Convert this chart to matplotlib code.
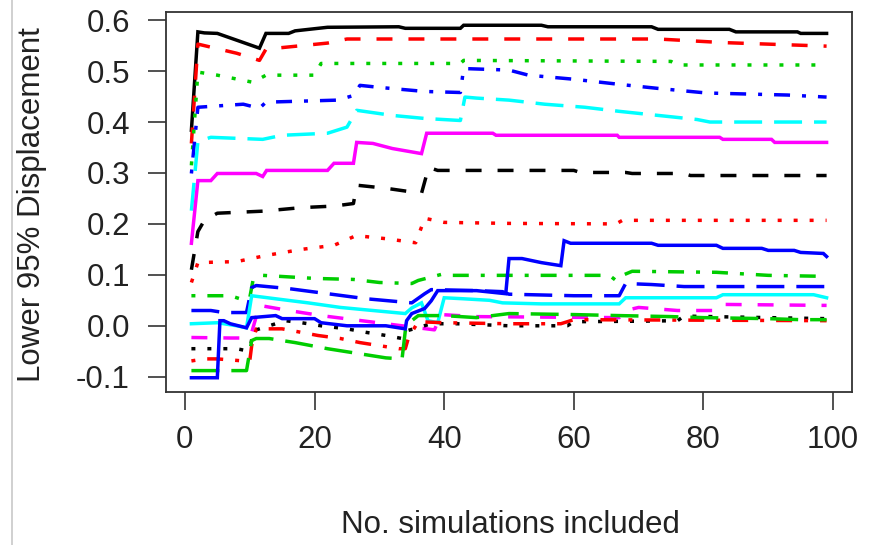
import matplotlib
matplotlib.use("Agg")
import matplotlib.pyplot as plt
from matplotlib.lines import Line2D

plt.rcParams['font.family'] = ['Liberation Sans', 'DejaVu Sans']

# data: (simulations included, lower 95% displacement)
s01 = [(1, 0.384), (2, 0.577), (3, 0.575), (5, 0.574), (11.5, 0.545), (12.5, 0.574), (16, 0.574),
       (17, 0.579), (22, 0.586), (33, 0.587), (34, 0.584), (42.5, 0.584), (43, 0.590), (55, 0.590),
       (56, 0.587), (72, 0.587), (73, 0.582), (84, 0.582), (85, 0.577), (94.5, 0.577), (95, 0.574),
       (99, 0.574)]
s02 = [(1, 0.358), (2, 0.553), (4, 0.547), (8, 0.535), (11.5, 0.521), (12.5, 0.543), (22, 0.555),
       (25, 0.563), (73, 0.563), (83, 0.556), (99, 0.549)]
s03 = [(1, 0.315), (2, 0.498), (5, 0.492), (10.5, 0.478), (12.5, 0.492), (20, 0.492), (21, 0.515),
       (42.5, 0.515), (43, 0.521), (75, 0.519), (76, 0.512), (99, 0.512)]
s04 = [(1, 0.299), (2, 0.429), (9, 0.435), (11.5, 0.427), (12.5, 0.439), (23.5, 0.443), (26, 0.452),
       (27, 0.472), (30, 0.468), (37, 0.460), (42.5, 0.458), (43, 0.505), (50, 0.502), (53, 0.492),
       (60, 0.484), (67, 0.474), (73, 0.466), (80.5, 0.457), (93, 0.453), (99, 0.449)]
s05 = [(1, 0.226), (2, 0.362), (4, 0.370), (12, 0.366), (15, 0.374), (22, 0.378), (25, 0.390),
       (26.5, 0.423), (32, 0.413), (37, 0.407), (42.5, 0.403), (43.2, 0.449), (45, 0.447), (50, 0.443),
       (55.5, 0.435), (61.7, 0.429), (67, 0.421), (73, 0.413), (79, 0.405), (81, 0.400), (99, 0.400)]
s06 = [(1, 0.162), (2, 0.285), (4, 0.285), (5, 0.299), (11, 0.299), (12, 0.293), (12.6, 0.305),
       (22, 0.305), (23, 0.319), (26, 0.319), (26.5, 0.360), (29, 0.358), (32, 0.348), (36.5, 0.338),
       (37.3, 0.378), (47.5, 0.378), (48, 0.374), (66.7, 0.374), (67, 0.370), (82.5, 0.370),
       (83, 0.366), (90.5, 0.366), (91, 0.360), (99, 0.360)]
s07 = [(1, 0.110), (2, 0.185), (3, 0.207), (5, 0.221), (12, 0.225), (18, 0.232), (23, 0.235),
       (26, 0.240), (26.5, 0.276), (31, 0.270), (36.5, 0.260), (37.6, 0.311), (39, 0.305), (60, 0.305),
       (61, 0.301), (68, 0.301), (69, 0.299), (77, 0.299), (78, 0.295), (99, 0.295)]
s08 = [(1, 0.085), (2, 0.124), (8, 0.126), (12.5, 0.138), (18, 0.150), (23, 0.158), (26.4, 0.177),
       (31, 0.171), (35.6, 0.163), (37, 0.211), (40, 0.203), (50, 0.201), (66.5, 0.200), (67.5, 0.207),
       (99, 0.207)]
s09 = [(1, 0.059), (7, 0.059), (8.5, 0.053), (10, 0.055), (10.5, 0.089), (12, 0.099), (20, 0.093),
       (26, 0.091), (30, 0.085), (35, 0.083), (36, 0.089), (39.6, 0.101), (40, 0.099), (65.5, 0.099),
       (66.5, 0.089), (67.5, 0.099), (69, 0.107), (82, 0.105), (90, 0.099), (99, 0.097)]
s10 = [(1, 0.030), (4, 0.030), (6, 0.026), (9.5, 0.026), (10.3, 0.075), (11, 0.079), (16, 0.073),
       (22, 0.063), (28, 0.053), (35, 0.045), (37, 0.063), (38, 0.071), (45, 0.069), (49, 0.067),
       (50, 0.062), (60, 0.059), (67, 0.059), (68, 0.083), (72, 0.081), (77, 0.077), (99, 0.077)]
s11 = [(1, 0.004), (5, 0.006), (8, 0.000), (9.5, -0.004), (10.3, 0.059), (14, 0.053), (19, 0.045),
       (24, 0.036), (29, 0.030), (34, 0.024), (35, 0.035), (36.5, 0.045), (37.5, 0.010), (39, 0.006),
       (40, 0.055), (43, 0.053), (47, 0.050), (49, 0.045), (55, 0.043), (67, 0.043), (68, 0.055),
       (82, 0.055), (83, 0.061), (97, 0.061), (99, 0.055)]
s12 = [(1, -0.023), (7, -0.024), (9.5, -0.024), (10.3, -0.013), (11.5, 0.040), (16, 0.030),
       (21, 0.020), (26, 0.012), (31, 0.004), (36, -0.004), (38.5, -0.008), (39.5, 0.022), (45, 0.018),
       (67, 0.016), (68, 0.030), (70, 0.036), (76, 0.030), (81.5, 0.030), (82.5, 0.042), (99, 0.040)]
s13 = [(1, -0.045), (8, -0.045), (9.5, -0.049), (10.2, -0.035), (10.5, -0.010), (15.5, 0.010),
       (18, 0.006), (21, 0.000), (25, -0.006), (28, -0.013), (31, -0.019), (33.5, -0.025),
       (34.2, -0.010), (38, 0.004), (42, 0.004), (50, 0.000), (59, 0.000), (60, 0.008), (70, 0.009),
       (76, 0.010), (77, 0.019), (90, 0.016), (99, 0.014)]
s14 = [(1, -0.069), (3, -0.065), (5, -0.065), (9, -0.069), (10, -0.069), (10.3, -0.039),
       (11, -0.006), (15, -0.006), (18, -0.013), (20.5, -0.019), (24, -0.025), (27, -0.033),
       (30, -0.039), (33, -0.045), (34, -0.045), (34.5, -0.023), (36, 0.008), (40, 0.006), (50, 0.004),
       (58, 0.004), (60, 0.012), (99, 0.010)]
s15 = [(1, -0.088), (9.5, -0.088), (10.3, -0.029), (11, -0.025), (13, -0.025), (17, -0.033),
       (22, -0.045), (27, -0.055), (31, -0.063), (33.5, -0.065), (34, -0.010), (35, 0.010), (36, 0.020),
       (40, 0.020), (45, 0.016), (50, 0.024), (60, 0.022), (67, 0.020), (75, 0.018), (80, 0.016),
       (90, 0.014), (95, 0.012), (99, 0.012)]
s16 = [(1, -0.102), (5, -0.102), (5.4, 0.010), (6, 0.010), (7, 0.004), (9.5, -0.004), (10.3, 0.016),
       (14, 0.020), (15, 0.014), (20, 0.014), (21, 0.006), (25, 0.000), (31, 0.000), (34, -0.006),
       (34.2, 0.010), (35, 0.024), (37, 0.034), (38, 0.049), (39, 0.069), (45, 0.069), (49.5, 0.063),
       (50, 0.132), (52, 0.132), (55, 0.124), (58, 0.118), (58.5, 0.167), (59.5, 0.162), (72, 0.162),
       (73, 0.158), (82, 0.158), (83, 0.152), (89, 0.152), (90, 0.148), (94, 0.148), (95, 0.144),
       (98.5, 0.142), (99, 0.136)]
series = [s01, s02, s03, s04, s05, s06, s07, s08, s09, s10, s11, s12, s13, s14, s15, s16]

x_ticks = [0, 20, 40, 60, 80, 100]
y_ticks = [-0.1, 0.0, 0.1, 0.2, 0.3, 0.4, 0.5, 0.6]
y_ticklabels = ["-0.1", "0.0", "0.1", "0.2", "0.3", "0.4", "0.5", "0.6"]

# R default palette and line types, cycled like matplot
palette = ["black", "#FF0000", "#00CD00", "#0000FF", "#00FFFF", "#FF00FF"]
k = 1.15
ltys = ["-", (0, (4 * k, 4 * k)), (0, (1 * k, 3 * k)), (0, (1 * k, 3 * k, 4 * k, 3 * k)),
        (0, (7 * k, 3 * k))]

fig = plt.figure(figsize=(8.72, 5.45), dpi=100)
ax = fig.add_axes([166 / 872, 1 - 392 / 545, (852 - 166) / 872, (392 - 11.5) / 545])

for i, s in enumerate(series):
    xs = [p[0] for p in s]
    ys = [p[1] for p in s]
    ax.plot(xs, ys, color=palette[i % 6], linestyle=ltys[i % 5], linewidth=2.5,
            solid_joinstyle="miter", dash_capstyle="butt")

ax.set_xlim(-2.92, 102.92)
ax.set_ylim(-0.130, 0.617)
ax.set_xticks(x_ticks)
ax.set_yticks(y_ticks)
ax.set_yticklabels(y_ticklabels)
for sp in ax.spines.values():
    sp.set_linewidth(1.3)
    sp.set_color("#333333")
ax.tick_params(axis="both", length=13, width=1.2, color="#333333", labelsize=22.5,
               labelcolor="#222222")
ax.tick_params(axis="y", pad=13)
ax.tick_params(axis="x", pad=11)

fig.text(32 / 872, 1 - 205 / 545, "Lower 95% Displacement", rotation=90, ha="center",
         va="center", fontsize=22.5, color="#222222")
fig.text(510 / 872, 1 - 525 / 545, "No. simulations included", ha="center", va="center",
         fontsize=22.5, color="#222222")

# thin frame line of the original screenshot
fig.add_artist(Line2D([12 / 872, 12 / 872], [0, 1], color="#c8c8c8", linewidth=1.2))

fig.savefig("out.png", dpi=100)
